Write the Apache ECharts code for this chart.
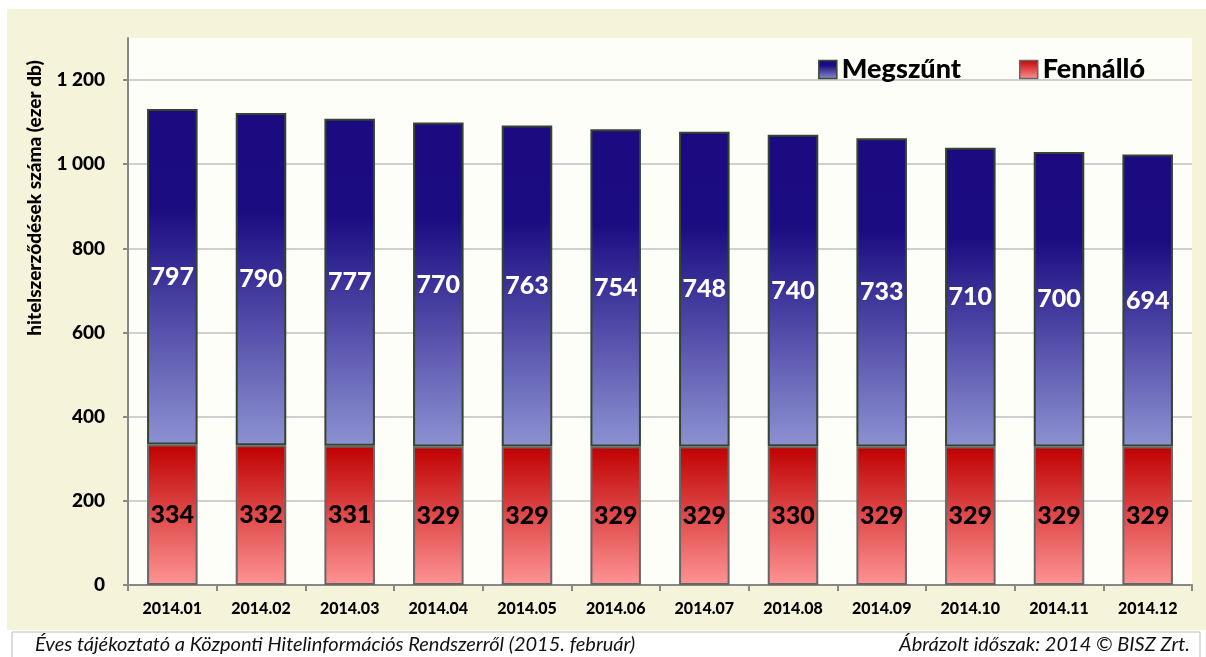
<!DOCTYPE html>
<html>
<head>
<meta charset="utf-8">
<script src="https://cdn.jsdelivr.net/npm/echarts@6/dist/echarts.min.js"></script>
<style>
  html, body { margin: 0; padding: 0; background: #fff; }
  #chart { width: 1206px; height: 657px; }
</style>
</head>
<body>
<div id="chart"></div>
<script>
// adatok
var months = ['2014.01','2014.02','2014.03','2014.04','2014.05','2014.06','2014.07','2014.08','2014.09','2014.10','2014.11','2014.12'];
var fennallo = [334, 332, 331, 329, 329, 329, 329, 330, 329, 329, 329, 329];
var megszunt = [797, 790, 777, 770, 763, 754, 748, 740, 733, 710, 700, 694];
var yTicks = [0, 200, 400, 600, 800, 1000, 1200];

var fontFam = 'Lato, "Open Sans", sans-serif';

var blueGrad = new echarts.graphic.LinearGradient(0, 0, 0, 1, [
  {offset: 0, color: '#1b0a80'},
  {offset: 0.3, color: '#1c0c82'},
  {offset: 1, color: '#8d92d2'}
]);
var redGrad = new echarts.graphic.LinearGradient(0, 0, 0, 1, [
  {offset: 0, color: '#c00000'},
  {offset: 1, color: '#ff9494'}
]);

var myChart = echarts.init(document.getElementById('chart'));
myChart.setOption({
  animation: false,
  backgroundColor: '#ffffff',
  textStyle: { fontFamily: fontFam },
  graphic: [
    { type: 'rect', z: -10, shape: { x: 7, y: 9, width: 1199, height: 621 }, style: { fill: '#f5f3da' } },
    { type: 'rect', z: -10, shape: { x: 12, y: 632, width: 1188, height: 26 }, style: { fill: '#ffffff', stroke: '#bbbbbb', lineWidth: 1 } },
    { type: 'text', x: 35, y: 645, style: { text: 'Éves tájékoztató a Központi Hitelinformációs Rendszerről (2015. február)', font: 'italic 20px ' + fontFam, fill: '#111', textVerticalAlign: 'middle' } },
    { type: 'text', x: 1190, y: 645, style: { text: 'Ábrázolt időszak: 2014 © BISZ Zrt.', font: 'italic 20px ' + fontFam, fill: '#111', textAlign: 'right', textVerticalAlign: 'middle' } },
    { type: 'text', x: 35, y: 198, rotation: Math.PI / 2, style: { text: 'hitelszerződések száma (ezer db)', font: '900 19px ' + fontFam, fill: '#000', textAlign: 'center', textVerticalAlign: 'middle' } }
  ],
  legend: {
    top: 51,
    right: 56,
    itemWidth: 18,
    itemHeight: 18,
    itemGap: 58,
    icon: 'rect',
    textStyle: { fontSize: 27, fontWeight: 900, color: '#000', fontFamily: fontFam },
    data: [
      { name: 'Megszűnt', itemStyle: { color: blueGrad, borderColor: '#3a4a33', borderWidth: 1.5 } },
      { name: 'Fennálló', itemStyle: { color: redGrad, borderColor: '#666', borderWidth: 1.5 } }
    ]
  },
  grid: {
    left: 128, right: 14, top: 38, bottom: 72,
    show: true, backgroundColor: '#fefef8', borderWidth: 0
  },
  xAxis: {
    type: 'category',
    data: months,
    axisLine: { lineStyle: { color: '#888', width: 2 } },
    axisTick: { show: true, length: 6, lineStyle: { color: '#888', width: 2 } },
    axisLabel: { fontSize: 16, fontWeight: 900, color: '#000', margin: 16 }
  },
  yAxis: {
    type: 'value',
    min: 0,
    max: 1300,
    interval: 200,
    axisLine: { show: true, lineStyle: { color: '#888', width: 2 } },
    axisTick: { show: true, length: 5, lineStyle: { color: '#888', width: 2 } },
    axisLabel: {
      fontSize: 19, fontWeight: 900, color: '#000', margin: 23, showMaxLabel: false,
      formatter: function (v) {
        if (yTicks.indexOf(v) < 0) return '';
        return String(v).replace(/\B(?=(\d{3})+(?!\d))/g, ' ');
      }
    },
    splitLine: { show: true, lineStyle: { color: ['#d0d0d0','#d0d0d0','#d0d0d0','#d0d0d0','#d0d0d0','#d0d0d0','#d0d0d0','rgba(0,0,0,0)'], width: 2 } }
  },
  series: [
    {
      name: 'Fennálló',
      type: 'bar',
      stack: 'total',
      data: fennallo,
      barCategoryGap: '43%',
      itemStyle: { color: redGrad, borderColor: '#666', borderWidth: 2 },
      label: { show: true, position: 'inside', fontSize: 25, fontWeight: 900, color: '#000', fontFamily: fontFam }
    },
    {
      name: 'Megszűnt',
      type: 'bar',
      stack: 'total',
      data: megszunt,
      barCategoryGap: '43%',
      itemStyle: { color: blueGrad, borderColor: '#34442e', borderWidth: 2 },
      label: { show: true, position: 'inside', fontSize: 25, fontWeight: 900, color: '#fff', fontFamily: fontFam }
    }
  ]
});
</script>
</body>
</html>
